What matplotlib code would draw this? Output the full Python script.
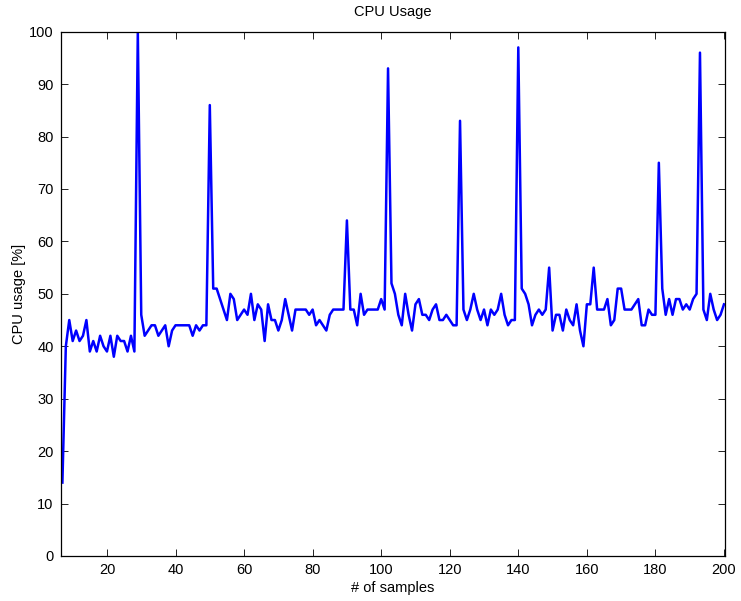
import numpy as np
import matplotlib
matplotlib.use("Agg")
import matplotlib.pyplot as plt

# samples 7..200
samples = np.arange(7, 201)
cpu_usage = [
    14, 40, 45, 41, 43, 41, 42, 45, 39, 41, 39, 42, 40, 39, 42, 38, 42, 41, 41, 39,
    42, 39, 100, 46, 42, 43, 44, 44, 42, 43, 44, 40, 43, 44, 44, 44, 44, 44, 42, 44,
    43, 44, 44, 86, 51, 51, 49, 47, 45, 50, 49, 45, 46, 47, 46, 50, 45, 48, 47, 41,
    48, 45, 45, 43, 45, 49, 46, 43, 47, 47, 47, 47, 46, 47, 44, 45, 44, 43, 46, 47,
    47, 47, 47, 64, 47, 47, 44, 50, 46, 47, 47, 47, 47, 49, 47, 93, 52, 50, 46, 44,
    50, 46, 43, 48, 49, 46, 46, 45, 47, 48, 45, 45, 46, 45, 44, 44, 83, 47, 45, 47,
    50, 47, 45, 47, 44, 47, 46, 47, 50, 46, 44, 45, 45, 97, 51, 50, 48, 44, 46, 47,
    46, 47, 55, 43, 46, 46, 43, 47, 45, 44, 48, 43, 40, 48, 48, 55, 47, 47, 47, 49,
    44, 45, 51, 51, 47, 47, 47, 48, 49, 44, 44, 47, 46, 46, 75, 51, 46, 49, 46, 49,
    49, 47, 48, 47, 49, 50, 96, 47, 45, 50, 47, 45, 46, 48,
]
x_ticks = list(range(20, 201, 20))
y_ticks = list(range(0, 101, 10))

plt.rcParams['font.family'] = ['Liberation Sans', 'DejaVu Sans']
plt.rcParams['font.size'] = 10.5

fig = plt.figure(figsize=(7.41, 6.01), dpi=100)
ax = fig.add_axes([0.0819, 0.0749, 0.8965, 0.8724])

ax.plot(samples, cpu_usage, color=(0, 0, 1), linewidth=1.8)

ax.set_xlim(6.5, 200.3)
ax.set_ylim(0, 100)
ax.set_xticks(x_ticks)
ax.set_yticks(y_ticks)
ax.tick_params(direction='in', top=True, right=True, length=5, width=0.7,
               colors='#222222', labelcolor='black', pad=5)
for sp in ax.spines.values():
    sp.set_linewidth(0.9)
    sp.set_color('black')

ax.set_title('CPU Usage', fontsize=10.5, pad=11)
ax.set_xlabel('# of samples', labelpad=3)
ax.set_ylabel('CPU usage [%]', labelpad=2)

fig.savefig('out.png', dpi=100)
